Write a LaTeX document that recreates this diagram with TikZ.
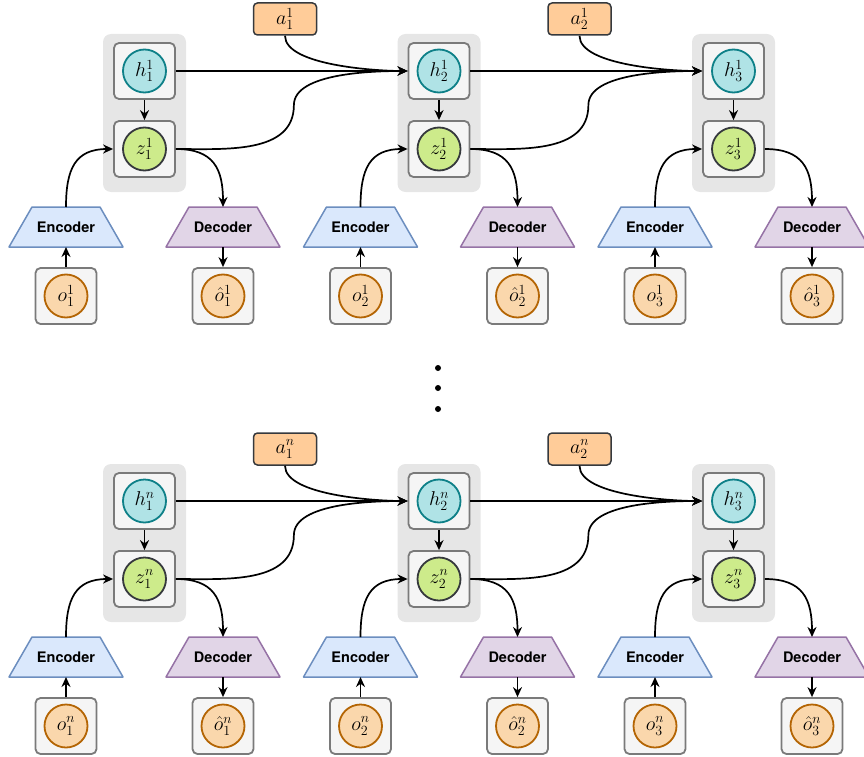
\RequirePackage{fix-cm}
\documentclass[tikz,border=0pt]{standalone}
\usepackage{fontspec}
\newfontfamily\labelfont{TeX Gyre Heros}
\usepackage{tikz}
\usetikzlibrary{arrows.meta}

\definecolor{groupfill}{HTML}{E6E6E6}
\definecolor{boxfill}{HTML}{F5F5F5}
\definecolor{boxline}{HTML}{7A7A7A}
\definecolor{hfill}{HTML}{B0E3E6}
\definecolor{hline}{HTML}{0E8088}
\definecolor{zfill}{HTML}{CDEB8B}
\definecolor{darkline}{HTML}{36393D}
\definecolor{ofill}{HTML}{FAD7AC}
\definecolor{oline}{HTML}{B46504}
\definecolor{afill}{HTML}{FFCC99}
\definecolor{encfill}{HTML}{DAE8FC}
\definecolor{encline}{HTML}{6C8EBF}
\definecolor{decfill}{HTML}{E1D5E7}
\definecolor{decline}{HTML}{9673A6}

\tikzset{
  group/.style={fill=groupfill, rounded corners=8pt, minimum width=83pt, minimum height=158pt, inner sep=0pt},
  cell/.style={draw=boxline, fill=boxfill, line width=1.8pt, rounded corners=5pt, minimum width=61pt, minimum height=56pt, inner sep=0pt},
  var/.style={circle, line width=1.8pt, minimum size=43pt, inner sep=0pt, font=\fontsize{20}{22}\selectfont},
  hvar/.style={var, draw=hline, fill=hfill},
  zvar/.style={var, draw=darkline, fill=zfill},
  ovar/.style={var, draw=oline, fill=ofill},
  act/.style={draw=darkline, fill=afill, line width=1.5pt, rounded corners=4pt, minimum width=63pt, minimum height=32pt, inner sep=0pt, font=\fontsize{20}{22}\selectfont},
  coder/.style={minimum width=114pt, minimum height=40pt, inner sep=0pt, outer sep=0pt},
  codertext/.style={inner sep=0pt, font=\labelfont\bfseries\fontsize{14.5}{16}\selectfont},
  trap/.style={line width=1.5pt, line join=round},
  flow/.style={-{Stealth[length=10pt,width=9pt]}, line width=1.7pt}
}

\begin{document}
\begin{tikzpicture}[x=1pt, y=-1pt]
   \useasboundingbox (0,0) rectangle (864,757);
   % Blocks, one per step and per row
   \foreach \r/\s/\dy in {1/1/0, 2/n/430}{
     \foreach \c in {1,2,3}{
       \begin{scope}[shift={({(\c-1)*294.5},\dy)}]
         \node[group] (g\r\c) at (144.5,113) {};
         \node[cell] (h\r\c) at (144.5,71) {};
         \node[hvar] (hv\r\c) at (h\r\c) {$h^{\s}_{\c}$};
         \node[cell] (z\r\c) at (144.5,149) {};
         \node[zvar] (zv\r\c) at (z\r\c) {$z^{\s}_{\c}$};
         % Encoder / Decoder
         \node[coder] (e\r\c) at (66,227) {};
         \filldraw[trap, draw=encline, fill=encfill] (e\r\c.south west) -- (e\r\c.south east)
           -- ([xshift=-23pt]e\r\c.north east) -- ([xshift=23pt]e\r\c.north west) -- cycle;
         \node[codertext] (et\r\c) at (e\r\c) {Encoder};
         \node[coder] (d\r\c) at (223,227) {};
         \filldraw[trap, draw=decline, fill=decfill] (d\r\c.south west) -- (d\r\c.south east)
           -- ([xshift=-23pt]d\r\c.north east) -- ([xshift=23pt]d\r\c.north west) -- cycle;
         \node[codertext] (dt\r\c) at (d\r\c) {Decoder};
         \node[cell] (o\r\c) at (66,296) {};
         \node[ovar] (ov\r\c) at (o\r\c) {$o^{\s}_{\c}$};
         \node[cell] (p\r\c) at (223,296) {};
         \node[ovar] (pv\r\c) at (p\r\c) {$\hat{o}^{\s}_{\c}$};
         \ifnum\c<3
           \node[act] (a\r\c) at (285,19) {$a^{\s}_{\c}$};
         \fi
       \end{scope}
     }
   }
   % Connectors inside a step
   \foreach \r in {1,2}{
     \foreach \c in {1,2,3}{
       \draw[flow] (h\r\c.south) -- (z\r\c.north);
       \draw[flow] (o\r\c.north) -- (e\r\c.south);
       \draw[flow] (e\r\c.north) to[out=90,in=180,looseness=1.3] (z\r\c.west);
       \draw[flow] (z\r\c.east) to[out=0,in=90,looseness=1.3] (d\r\c.north);
       \draw[flow] (d\r\c.south) -- (p\r\c.north);
     }
     % Connectors to the next step
     \foreach \c/\n in {1/2,2/3}{
       \draw[flow] (h\r\c.east) -- (h\r\n.west);
       \draw[flow] (a\r\c.south) to[out=-90,in=180,looseness=0.6] (h\r\n.west);
       \draw[flow] (z\r\c.east) to[out=0,in=-90] ++(118,-44) to[out=90,in=180,looseness=0.7] (h\r\n.west);
     }
   }
   % Dots
   \foreach \y in {368,388,409}
     \fill (438,\y) circle (3pt);
\end{tikzpicture}
\end{document}
